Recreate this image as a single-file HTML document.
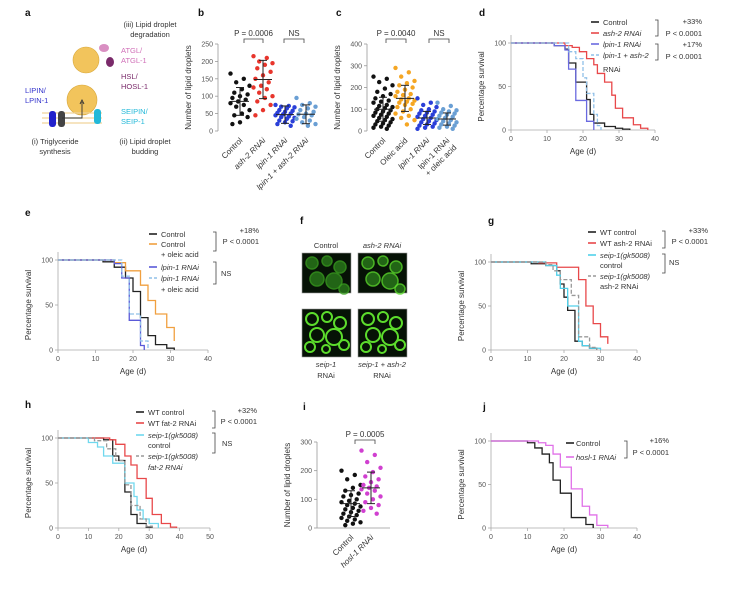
<!DOCTYPE html>
<html><head><meta charset="utf-8"><style>
html,body{margin:0;padding:0;background:#fff;}
svg{display:block;font-family:"Liberation Sans",sans-serif;}
</style></head><body>
<svg id="fig" width="732" height="592" viewBox="0 0 732 592"></svg>
<script>
// ---------- data ----------
const dCtrlT=[12,15,16,18,21,22,23,26,29,31,33], dCtrlS=[97,93,77,55,35,18,8,4,2,1,0];
const dAshT=[15,17,19,21,23,24,26,28,29,31,34,36,38], dAshS=[97,95,90,82,75,65,55,40,25,14,6,2,0];
const dLpinT=[12,15,16,18,21,23], dLpinS=[97,92,70,34,10,0];
const dBothT=[16,18,20,21,23,24,25], dBothS=[90,82,60,42,18,5,0];
const eCtrlT=[12,15,18,20,22,24,26,29,31], eCtrlS=[98,92,80,65,36,16,6,2,0];
const eOleT=[15,18,22,24,26,29,31], eOleS=[97,88,72,55,40,25,10];
const eLpinT=[15,17,19,22,23], eLpinS=[96,80,33,5,0];
const eLpinOleT=[17,19,22,24], eLpinOleS=[82,40,10,0];
const gCtrlT=[11,15,18,19,20,21,23,25,27,29], gCtrlS=[98,96,90,75,60,45,10,5,2,0];
const gAshT=[13,18,24,26,28,30,32], gAshS=[99,94,80,50,30,15,7];
const gSeipT=[15,18,19,21,24,25,27,30], gSeipS=[96,85,70,50,10,5,2,0];
const gSeipAshT=[15,17,19,22,24,27,29], gSeipAshS=[97,90,80,62,15,3,0];
const hCtrlT=[15,18,20,22,24,26,29,31], hCtrlS=[98,80,75,40,15,5,1,0];
const hFatT=[17,19,22,24,26,29,31,34,37,39], hFatS=[98,93,80,70,55,33,15,5,1,0];
const hSeipT=[10,13,15,18,22,25,26,28,30,33], hSeipS=[95,90,80,72,50,35,20,10,5,0];
const hSeipFatT=[12,16,19,22,24,27,29,31], hSeipFatS=[97,88,75,48,25,10,2,0];
const jCtrlT=[10,12,14,16,17,19,22,26,28], jCtrlS=[98,92,85,75,55,40,12,4,0];
const jHoslT=[13,15,17,19,22,25,27,29,32], jHoslS=[98,95,85,70,45,25,15,3,0];

const bCtrl=[165,150,140,130,120,110,105,100,95,90,85,80,75,70,60,50,45,40,25,20];
const bAsh=[215,210,200,195,190,180,170,160,150,140,130,125,120,110,100,95,85,75,60,45];
const bLpin=[75,72,70,68,65,60,58,55,52,50,48,45,42,40,38,35,30,28,25,20,15];
const bBoth=[95,80,75,70,65,60,55,50,48,45,40,35,30,25,20,15];
const bMean=[85,148,47,48], bSd=[40,55,25,27];
const cCtrl=[250,240,225,210,195,180,170,160,150,140,135,130,120,115,110,105,100,95,90,85,80,75,70,65,60,55,50,45,40,35,30,25,20,15,10];
const cOle=[290,270,250,230,220,210,200,190,180,170,165,160,150,145,140,135,130,125,120,110,100,90,80,70,60,50,30];
const cLpin=[150,130,120,110,100,95,90,85,80,75,70,65,60,55,50,45,40,35,30,25,20,15,10];
const cLpinOle=[130,115,100,95,90,85,80,75,70,65,60,55,50,45,40,35,30,25,20,15,10];
const cMean=[100,150,60,55], cSd=[55,60,30,28];
const iCtrl=[200,185,170,150,140,130,120,115,110,100,95,90,85,80,75,70,65,60,55,50,45,40,35,30,25,20,15,10];
const iHosl=[270,255,230,210,195,180,170,160,150,145,140,135,130,120,110,100,90,80,70,60,50];
const iMean=[85,140], iSd=[45,55];

// ---------- helpers ----------
const NS='http://www.w3.org/2000/svg';
const svg=document.getElementById('fig');
function mk(tag,attrs,name,parent){
  const el=document.createElementNS(NS,tag);
  for(const k in attrs) el.setAttribute(k,attrs[k]);
  
  
  (parent||svg).appendChild(el);
  return el;
}
function txt(x,y,s,name,o){
  o=o||{};
  const t=mk('text',{x:x,y:y,'font-size':o.size||8,fill:o.fill||'#333','text-anchor':o.anchor||'start','font-style':o.italic?'italic':'normal','font-weight':o.bold?'bold':'normal'},name);
  if(o.rot!==undefined) t.setAttribute('transform','rotate('+o.rot+' '+x+' '+y+')');
  t.textContent=s; return t;
}
function survPanel(p){
  const sx=v=>p.x0+(v/p.xmax)*(p.x1-p.x0);
  const sy=v=>p.y0-(v/100)*(p.y0-p.y100);
  mk('line',{x1:p.x0,y1:p.y100-8,x2:p.x0,y2:p.y0,stroke:'#aaa','stroke-width':0.8},p.id+'-y-axis');
  mk('line',{x1:p.x0,y1:p.y0,x2:p.x1,y2:p.y0,stroke:'#aaa','stroke-width':0.8},p.id+'-x-axis');
  [0,50,100].forEach(v=>{
    mk('line',{x1:p.x0-3,y1:sy(v),x2:p.x0,y2:sy(v),stroke:'#aaa','stroke-width':0.8},p.id+'-y-tick');
    txt(p.x0-5,sy(v)+2.5,String(v),p.id+'-y-tick-label',{anchor:'end',size:7,fill:'#555'});
  });
  p.xticks.forEach(v=>{
    mk('line',{x1:sx(v),y1:p.y0,x2:sx(v),y2:p.y0+3,stroke:'#aaa','stroke-width':0.8},p.id+'-x-tick');
    txt(sx(v),p.y0+11,String(v),p.id+'-x-tick-label',{anchor:'middle',size:7,fill:'#555'});
  });
  txt((p.x0+p.x1)/2,p.y0+24,'Age (d)',p.id+'-x-axis-title',{anchor:'middle',size:8});
  const ly=(p.y0+p.y100)/2, lx=p.x0-27;
  txt(lx,ly,'Percentage survival',p.id+'-y-axis-title',{anchor:'middle',size:8,rot:-90});
  p.series.forEach(s=>{
    let d='M'+sx(0)+','+sy(100);
    s.t.forEach((t,i)=>{ d+=' H'+sx(t)+' V'+sy(s.s[i]); });
    const a={d:d,fill:'none',stroke:s.color,'stroke-width':1.3};
    if(s.dash) a['stroke-dasharray']='4,2';
    mk('path',a,p.id+'-'+s.name+'-curve');
  });
}
function scatterPanel(p){
  const sy=v=>p.y0-(v/p.ymax)*(p.y0-p.yTop);
  mk('line',{x1:p.ax,y1:p.yTop,x2:p.ax,y2:p.y0,stroke:'#999','stroke-width':0.8},p.id+'-y-axis');
  if(p.xaxis) mk('line',{x1:p.ax,y1:p.y0,x2:p.xaxis,y2:p.y0,stroke:'#999','stroke-width':0.8},p.id+'-x-axis');
  p.ticks.forEach(v=>{
    mk('line',{x1:p.ax-3,y1:sy(v),x2:p.ax,y2:sy(v),stroke:'#999','stroke-width':0.8},p.id+'-y-tick');
    txt(p.ax-5,sy(v)+2.5,String(v),p.id+'-y-tick-label',{anchor:'end',size:7,fill:'#555'});
  });
  txt(p.ax-27,(p.y0+p.yTop)/2,'Number of lipid droplets',p.id+'-y-axis-title',{anchor:'middle',size:8,rot:-90});
  p.cats.forEach((c,ci)=>{
    c.vals.forEach((v,i)=>{
      const off=(((i*7)%11)-5)*1.9;
      mk('circle',{cx:c.x+off,cy:sy(v),r:2.2,fill:c.color},p.id+'-dot-'+c.name);
    });
    const m=p.mean[ci], s=p.sd[ci];
    mk('line',{x1:c.x-9,y1:sy(m),x2:c.x+9,y2:sy(m),stroke:'#222','stroke-width':1},p.id+'-mean-'+c.name);
    mk('line',{x1:c.x,y1:sy(m-s),x2:c.x,y2:sy(m+s),stroke:'#222','stroke-width':1},p.id+'-sd-'+c.name);
    mk('line',{x1:c.x-4,y1:sy(m-s),x2:c.x+4,y2:sy(m-s),stroke:'#222','stroke-width':1},p.id+'-sd-cap');
    mk('line',{x1:c.x-4,y1:sy(m+s),x2:c.x+4,y2:sy(m+s),stroke:'#222','stroke-width':1},p.id+'-sd-cap');
    c.label.forEach((l,li)=>{
      txt(c.x+3+li*7,p.y0+10+li*7,l,p.id+'-category-label',{anchor:'end',size:8,rot:-45,italic:c.italic});
    });
  });
}
function bracket(x1,x2,y,label,name){
  mk('path',{d:'M'+x1+','+(y+4)+' V'+y+' H'+x2+' V'+(y+4),fill:'none',stroke:'#444','stroke-width':0.8},name+'-bracket');
  txt((x1+x2)/2,y-3,label,name+'-label',{anchor:'middle',size:8});
}
function legend(items,lx,tx,name){
  items.forEach(it=>{
    if(it.color){
      const a={x1:lx,y1:it.y-3,x2:lx+8,y2:it.y-3,stroke:it.color,'stroke-width':1.6};
      if(it.dash) a['stroke-dasharray']='3,2';
      mk('line',a,name+'-swatch');
    }
    txt(tx,it.y,it.t,name+'-entry',{size:7.5,italic:it.it});
  });
}
function sbracket(x,y1,y2,name){
  mk('path',{d:'M'+(x-3)+','+y1+' H'+x+' V'+y2+' H'+(x-3),fill:'none',stroke:'#444','stroke-width':0.8},name);
}

// ---------- panel labels ----------
[['a',25,16],['b',198,16],['c',336,16],['d',479,16],['e',25,216],['f',300,224],['g',488,224],['h',25,408],['i',303,410],['j',483,410]]
.forEach(l=>txt(l[1],l[2],l[0],'panel-label-'+l[0],{size:10,bold:true,fill:'#111'}));

// ---------- panel a diagram ----------
mk('circle',{cx:86,cy:60,r:13,fill:'#f2c45c',stroke:'#d9a83a','stroke-width':0.6},'degrading-droplet');
mk('circle',{cx:82,cy:100,r:15,fill:'#f2c45c',stroke:'#d9a83a','stroke-width':0.6},'budding-droplet');
[113,118,123].forEach(y=>mk('line',{x1:42,y1:y,x2:102,y2:y,stroke:'#f0d49a','stroke-width':1.2},'membrane'));
mk('ellipse',{cx:104,cy:48,rx:5,ry:4,fill:'#d98fc2'},'atgl-protein');
mk('ellipse',{cx:110,cy:62,rx:4,ry:5,fill:'#7a2a6a'},'hsl-protein');
mk('rect',{x:49,y:111,width:7,height:16,rx:3,fill:'#2222cc'},'lpin-protein');
mk('rect',{x:58,y:111,width:7,height:16,rx:3,fill:'#444'},'lpin-partner');
mk('rect',{x:94,y:109,width:7,height:15,rx:3,fill:'#22b8d8'},'seipin-protein');
mk('path',{d:'M62,118 H82 V102',fill:'none',stroke:'#333','stroke-width':0.9},'synthesis-arrow');
mk('path',{d:'M80,104 L82,100 L84,104',fill:'none',stroke:'#333','stroke-width':0.9},'arrow-head');
txt(150,27,'(iii) Lipid droplet','label-degradation',{anchor:'middle',size:7.5});
txt(150,37,'degradation','label-degradation-2',{anchor:'middle',size:7.5});
txt(121,53,'ATGL/','atgl-label',{size:7.5,fill:'#d070b8'});
txt(121,63,'ATGL-1','atgl-label-2',{size:7.5,fill:'#d070b8'});
txt(121,79,'HSL/','hsl-label',{size:7.5,fill:'#7a2a6a'});
txt(121,89,'HOSL-1','hsl-label-2',{size:7.5,fill:'#7a2a6a'});
txt(25,93,'LIPIN/','lipin-label',{size:7.5,fill:'#3333cc'});
txt(25,103,'LPIN-1','lipin-label-2',{size:7.5,fill:'#3333cc'});
txt(121,114,'SEIPIN/','seipin-label',{size:7.5,fill:'#22b8d8'});
txt(121,124,'SEIP-1','seipin-label-2',{size:7.5,fill:'#22b8d8'});
txt(55,144,'(i) Triglyceride','label-synthesis',{anchor:'middle',size:7.5});
txt(55,154,'synthesis','label-synthesis-2',{anchor:'middle',size:7.5});
txt(145,144,'(ii) Lipid droplet','label-budding',{anchor:'middle',size:7.5});
txt(145,154,'budding','label-budding-2',{anchor:'middle',size:7.5});

// ---------- panel b ----------
scatterPanel({id:'b',ax:218,y0:131,yTop:44,ymax:250,ticks:[0,50,100,150,200,250],mean:bMean,sd:bSd,cats:[
 {name:'control',x:240,vals:bCtrl,color:'#111',label:['Control']},
 {name:'ash2',x:263,vals:bAsh,color:'#e8352c',label:['ash-2 RNAi'],italic:true},
 {name:'lpin1',x:285,vals:bLpin,color:'#2a3fd8',label:['lpin-1 RNAi'],italic:true},
 {name:'lpin1-ash2',x:306,vals:bBoth,color:'#6a9fd4',label:['lpin-1 + ash-2 RNAi'],italic:true}]});
bracket(244,263,39,'P = 0.0006','b-p-value');
bracket(284,304,39,'NS','b-ns');

// ---------- panel c ----------
scatterPanel({id:'c',ax:367,y0:131,yTop:44,ymax:400,ticks:[0,100,200,300,400],mean:cMean,sd:cSd,cats:[
 {name:'control',x:383,vals:cCtrl,color:'#111',label:['Control']},
 {name:'oleic',x:405,vals:cOle,color:'#f5a623',label:['Oleic acid']},
 {name:'lpin1',x:427,vals:cLpin,color:'#2a3fd8',label:['lpin-1 RNAi'],italic:true},
 {name:'lpin1-oleic',x:447,vals:cLpinOle,color:'#6a9fd4',label:['lpin-1 RNAi','+ oleic acid']}]});
bracket(386,406,39,'P = 0.0040','c-p-value');
bracket(429,449,39,'NS','c-ns');

// ---------- panel d ----------
survPanel({id:'d',x0:511,x1:655,y0:130,y100:43,xmax:40,xticks:[0,10,20,30,40],series:[
 {name:'control',t:dCtrlT,s:dCtrlS,color:'#222'},
 {name:'ash2',t:dAshT,s:dAshS,color:'#e8484a'},
 {name:'lpin1',t:dLpinT,s:dLpinS,color:'#6a6ae0'},
 {name:'lpin1-ash2',t:dBothT,s:dBothS,color:'#90c0e8',dash:true}]});
legend([{t:'Control',y:25,color:'#222'},{t:'ash-2 RNAi',y:36,color:'#e8484a',it:true},{t:'lpin-1 RNAi',y:47,color:'#6a6ae0',it:true},{t:'lpin-1 + ash-2',y:58,color:'#90c0e8',dash:true,it:true},{t:'RNAi',y:72}],591,603,'d-legend');
sbracket(658,20,36,'d-bracket-1'); sbracket(658,44,60,'d-bracket-2');
txt(702,24,'+33%','d-stat',{anchor:'end',size:7.5}); txt(702,36,'P < 0.0001','d-stat',{anchor:'end',size:7.5});
txt(702,47,'+17%','d-stat',{anchor:'end',size:7.5}); txt(702,59,'P < 0.0001','d-stat',{anchor:'end',size:7.5});

// ---------- panel e ----------
survPanel({id:'e',x0:58,x1:208,y0:350,y100:260,xmax:40,xticks:[0,10,20,30,40],series:[
 {name:'control',t:eCtrlT,s:eCtrlS,color:'#222'},
 {name:'oleic',t:eOleT,s:eOleS,color:'#f0a040'},
 {name:'lpin1',t:eLpinT,s:eLpinS,color:'#5a5ad8'},
 {name:'lpin1-oleic',t:eLpinOleT,s:eLpinOleS,color:'#90c0e8',dash:true}]});
legend([{t:'Control',y:237,color:'#222'},{t:'Control',y:247,color:'#f0a040'},{t:'+ oleic acid',y:257},{t:'lpin-1 RNAi',y:270,color:'#5a5ad8',it:true},{t:'lpin-1 RNAi',y:281,color:'#90c0e8',dash:true,it:true},{t:'+ oleic acid',y:292}],149,161,'e-legend');
sbracket(216,232,251,'e-bracket-1'); sbracket(216,262,284,'e-bracket-2');
txt(259,233,'+18%','e-stat',{anchor:'end',size:7.5}); txt(259,244,'P < 0.0001','e-stat',{anchor:'end',size:7.5});
txt(221,276,'NS','e-stat',{size:7.5});

// ---------- panel f ----------
function micro(x,y,ring,bright,name){
  const h=y>300?48:40;
  mk('rect',{x:x,y:y,width:49,height:h,fill:'#061206',stroke:'#999','stroke-width':0.6},name);
  const cs=[[10,10,6],[25,8,5],[38,14,6],[15,26,7],[32,28,8],[42,36,5],[8,38,5],[24,40,4]];
  cs.forEach(c=>{ if(c[1]<h-2) mk('circle',{cx:x+c[0],cy:y+c[1],r:c[2],fill:ring?'none':'#2a7a1a',stroke:bright?'#5cdc2c':'#3aa020','stroke-width':ring?2:1.5,opacity:ring?1:0.8},name+'-droplet'); });
}
micro(302,253,false,false,'f-control-image');
micro(358,253,false,true,'f-ash2-image');
micro(302,309,true,true,'f-seip1-image');
micro(358,309,true,true,'f-seip1-ash2-image');
mk('rect',{x:332,y:297,width:12,height:2,fill:'#fff'},'f-scale-bar');
txt(326,248,'Control','f-label',{anchor:'middle',size:7.5});
txt(382,248,'ash-2 RNAi','f-label',{anchor:'middle',size:7.5,italic:true});
txt(326,367,'seip-1','f-label',{anchor:'middle',size:7.5,italic:true});
txt(326,378,'RNAi','f-label',{anchor:'middle',size:7.5});
txt(382,367,'seip-1 + ash-2','f-label',{anchor:'middle',size:7.5,italic:true});
txt(382,378,'RNAi','f-label',{anchor:'middle',size:7.5});

// ---------- panel g ----------
survPanel({id:'g',x0:491,x1:637,y0:350,y100:262,xmax:40,xticks:[0,10,20,30,40],series:[
 {name:'wt-control',t:gCtrlT,s:gCtrlS,color:'#222'},
 {name:'wt-ash2',t:gAshT,s:gAshS,color:'#e8484a'},
 {name:'seip1-control',t:gSeipT,s:gSeipS,color:'#50d0ea'},
 {name:'seip1-ash2',t:gSeipAshT,s:gSeipAshS,color:'#999',dash:true}]});
legend([{t:'WT control',y:235,color:'#222'},{t:'WT ash-2 RNAi',y:246,color:'#e8484a'},{t:'seip-1(gk5008)',y:258,color:'#50d0ea',it:true},{t:'control',y:268},{t:'seip-1(gk5008)',y:279,color:'#999',dash:true,it:true},{t:'ash-2 RNAi',y:289}],588,600,'g-legend');
sbracket(665,231,248,'g-bracket-1'); sbracket(665,254,273,'g-bracket-2');
txt(708,233,'+33%','g-stat',{anchor:'end',size:7.5}); txt(708,244,'P < 0.0001','g-stat',{anchor:'end',size:7.5});
txt(669,265,'NS','g-stat',{size:7.5});

// ---------- panel h ----------
survPanel({id:'h',x0:58,x1:210,y0:528,y100:438,xmax:50,xticks:[0,10,20,30,40,50],series:[
 {name:'wt-control',t:hCtrlT,s:hCtrlS,color:'#222'},
 {name:'wt-fat2',t:hFatT,s:hFatS,color:'#e8484a'},
 {name:'seip1-control',t:hSeipT,s:hSeipS,color:'#70d8ee'},
 {name:'seip1-fat2',t:hSeipFatT,s:hSeipFatS,color:'#999',dash:true}]});
legend([{t:'WT control',y:415,color:'#222'},{t:'WT fat-2 RNAi',y:426,color:'#e8484a'},{t:'seip-1(gk5008)',y:438,color:'#70d8ee',it:true},{t:'control',y:448},{t:'seip-1(gk5008)',y:459,color:'#999',dash:true,it:true},{t:'fat-2 RNAi',y:470,it:true}],136,148,'h-legend');
sbracket(215,411,428,'h-bracket-1'); sbracket(215,433,453,'h-bracket-2');
txt(257,413,'+32%','h-stat',{anchor:'end',size:7.5}); txt(257,424,'P < 0.0001','h-stat',{anchor:'end',size:7.5});
txt(222,446,'NS','h-stat',{size:7.5});

// ---------- panel i ----------
scatterPanel({id:'i',ax:317,y0:528,yTop:442,ymax:300,ticks:[0,100,200,300],xaxis:390,mean:iMean,sd:iSd,cats:[
 {name:'control',x:351,vals:iCtrl,color:'#111',label:['Control']},
 {name:'hosl1',x:371,vals:iHosl,color:'#d040d0',label:['hosl-1 RNAi'],italic:true}]});
bracket(355,375,440,'P = 0.0005','i-p-value');

// ---------- panel j ----------
survPanel({id:'j',x0:491,x1:637,y0:528,y100:441,xmax:40,xticks:[0,10,20,30,40],series:[
 {name:'control',t:jCtrlT,s:jCtrlS,color:'#222'},
 {name:'hosl1',t:jHoslT,s:jHoslS,color:'#e070e8'}]});
legend([{t:'Control',y:446,color:'#222'},{t:'hosl-1 RNAi',y:460,color:'#e070e8',it:true}],566,576,'j-legend');
sbracket(627,441,458,'j-bracket');
txt(669,443,'+16%','j-stat',{anchor:'end',size:7.5}); txt(669,455,'P < 0.0001','j-stat',{anchor:'end',size:7.5});
</script>
</body></html>
